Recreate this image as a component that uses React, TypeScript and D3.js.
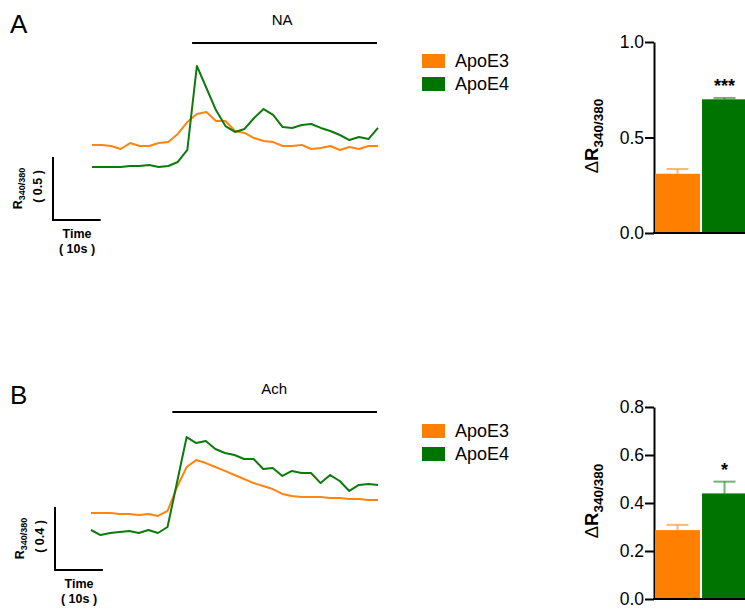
import React, { useEffect, useRef } from "react";
import * as d3 from "d3";

// calcium traces, one sample every 2 s (ratio 340/380)
const SAMPLE_S = 2;
const naApoE3 = [0.675, 0.675, 0.667, 0.643, 0.69, 0.667, 0.667, 0.69, 0.698, 0.762, 0.857, 0.921, 0.937, 0.865, 0.865, 0.786, 0.77, 0.73, 0.706, 0.698, 0.667, 0.667, 0.675, 0.643, 0.651, 0.667, 0.635, 0.659, 0.643, 0.667, 0.667];
const naApoE4 = [0.5, 0.5, 0.5, 0.5, 0.508, 0.508, 0.516, 0.5, 0.508, 0.54, 0.635, 1.302, 1.127, 0.952, 0.825, 0.778, 0.802, 0.889, 0.96, 0.913, 0.817, 0.81, 0.833, 0.841, 0.81, 0.786, 0.754, 0.714, 0.738, 0.722, 0.81];
const achApoE3 = [0.608, 0.608, 0.608, 0.602, 0.602, 0.595, 0.602, 0.589, 0.621, 0.773, 0.9, 0.944, 0.925, 0.9, 0.875, 0.849, 0.824, 0.798, 0.779, 0.76, 0.729, 0.716, 0.71, 0.71, 0.71, 0.703, 0.703, 0.697, 0.697, 0.69, 0.69];
const achApoE4 = [0.5, 0.468, 0.481, 0.487, 0.494, 0.481, 0.5, 0.481, 0.519, 0.805, 1.09, 1.052, 1.065, 1.014, 0.989, 0.976, 0.951, 0.951, 0.887, 0.894, 0.843, 0.875, 0.862, 0.862, 0.798, 0.849, 0.811, 0.748, 0.786, 0.792, 0.786];

// summary bars
const groups = ["ApoE3", "ApoE4"];
const naMean = [0.31, 0.70];
const naSem = [0.025, 0.007];
const achMean = [0.287, 0.44];
const achSem = [0.022, 0.049];
const naTicks = [0, 0.5, 1.0];
const achTicks = [0, 0.2, 0.4, 0.6, 0.8];

const ORANGE = "#ff7f00";
const GREEN = "#007400";
const FONT = "'Liberation Sans', Arial, sans-serif";

function drawPanel(svg: any, cfg: any) {
  const g = svg.append("g");
  const colors = [ORANGE, GREEN];

  // panel letter
  g.append("text").attr("x", 10).attr("y", cfg.top + 20)
    .attr("font-size", 26).text(cfg.letter);

  // traces
  const x = d3.scaleLinear().domain([0, 60]).range([cfg.traceLeft, 378]);
  const y = d3.scaleLinear().domain(cfg.yDomain).range(cfg.yRange);
  const line = d3.line<number>().x((d, i) => x(i * SAMPLE_S)).y(d => y(d));
  [cfg.e3, cfg.e4].forEach((s: number[], k: number) => {
    g.append("path").datum(s).attr("d", line)
      .attr("fill", "none").attr("stroke", k ? "#0d7a0d" : "#ff8410")
      .attr("stroke-width", 2).attr("stroke-linejoin", "round");
  });

  // agonist bar
  g.append("line").attr("x1", x(cfg.drugStart)).attr("x2", x(60) - 1)
    .attr("y1", cfg.drugY).attr("y2", cfg.drugY)
    .attr("stroke", "#000").attr("stroke-width", 2.2);
  g.append("text").attr("x", (x(cfg.drugStart) + x(60)) / 2 + cfg.drugDx)
    .attr("y", cfg.drugY - 18).attr("text-anchor", "middle")
    .attr("font-size", 15).text(cfg.drug);

  // scale bar
  const sbX = cfg.sbX, sbBottom = cfg.sbBottom;
  const sbH = y.range()[0] - y(y.domain()[0] + cfg.sbVal);
  const sbW = x(10) - x(0);
  g.append("path")
    .attr("d", `M${sbX},${sbBottom - sbH}V${sbBottom}H${sbX + sbW}`)
    .attr("fill", "none").attr("stroke", "#000").attr("stroke-width", 2);
  const rl = g.append("text")
    .attr("transform", `translate(${sbX - 31},${sbBottom - sbH / 2}) rotate(-90)`)
    .attr("text-anchor", "middle").attr("font-weight", "bold").attr("font-size", 12.5);
  rl.append("tspan").text("R");
  rl.append("tspan").attr("font-size", 9).attr("dy", 3).text("340/380");
  g.append("text")
    .attr("transform", `translate(${sbX - 11},${sbBottom - sbH / 2 - 2}) rotate(-90)`)
    .attr("text-anchor", "middle").attr("font-weight", "bold").attr("font-size", 12.5)
    .text(`( ${cfg.sbVal} )`);
  g.append("text").attr("x", sbX + 24).attr("y", sbBottom + 18)
    .attr("text-anchor", "middle").attr("font-weight", "bold").attr("font-size", 12.5).text("Time");
  g.append("text").attr("x", sbX + 24).attr("y", sbBottom + 33)
    .attr("text-anchor", "middle").attr("font-weight", "bold").attr("font-size", 12.5).text("( 10s )");

  // legend
  groups.forEach((name, k) => {
    g.append("rect").attr("x", 422).attr("y", cfg.legendY + k * 23)
      .attr("width", 23).attr("height", 14).attr("fill", colors[k]);
    g.append("text").attr("x", 455).attr("y", cfg.legendY + 13 + k * 23)
      .attr("font-size", 18).text(name);
  });

  // bar chart
  const by = d3.scaleLinear().domain([0, cfg.barMax]).range(cfg.barRange);
  const bx = d3.scaleBand().domain(groups).range([655, 747]).paddingInner(0.044);
  const ax = g.append("g").attr("transform", "translate(654,0)")
    .call(d3.axisLeft(by).tickValues(cfg.ticks).tickFormat(d3.format(".1f")).tickSize(9).tickSizeOuter(0));
  ax.select(".domain").attr("stroke-width", 2);
  ax.selectAll(".tick line").attr("stroke-width", 2);
  ax.selectAll(".tick text").attr("font-size", 17.5).attr("font-family", FONT).attr("fill", "#000").attr("x", -10);
  g.append("line").attr("x1", 653).attr("x2", 745)
    .attr("y1", by(0)).attr("y2", by(0)).attr("stroke", "#000").attr("stroke-width", 2);

  groups.forEach((name, k) => {
    const m = cfg.mean[k], e = cfg.sem[k];
    const cx = (bx(name) as number) + bx.bandwidth() / 2;
    g.append("line").attr("x1", cx).attr("x2", cx).attr("y1", by(m)).attr("y2", by(m + e))
      .attr("stroke", colors[k]).attr("stroke-opacity", 0.55).attr("stroke-width", 2);
    g.append("line").attr("x1", cx - 11).attr("x2", cx + 11).attr("y1", by(m + e)).attr("y2", by(m + e))
      .attr("stroke", colors[k]).attr("stroke-opacity", 0.55).attr("stroke-width", 2);
    g.append("rect").attr("x", bx(name) as number).attr("y", by(m))
      .attr("width", bx.bandwidth()).attr("height", by(0) - by(m) - 1).attr("fill", colors[k]);
  });
  const cx4 = (bx("ApoE4") as number) + bx.bandwidth() / 2;
  g.append("text").attr("x", cx4).attr("y", by(cfg.mean[1] + cfg.sem[1]) - cfg.starGap)
    .attr("text-anchor", "middle").attr("font-weight", "bold").attr("font-size", 18).text(cfg.stars);

  const yl = g.append("text")
    .attr("transform", `translate(598,${cfg.yLabelY}) rotate(-90)`)
    .attr("text-anchor", "middle").attr("font-weight", "bold").attr("font-size", 18.5);
  yl.append("tspan").attr("font-weight", "normal").text("Δ");
  yl.append("tspan").text("R");
  yl.append("tspan").attr("font-size", 13.5).attr("dy", 5).text("340/380");
}

export default function App() {
  const ref = useRef<SVGSVGElement>(null);
  useEffect(() => {
    const svg = d3.select(ref.current);
    svg.selectAll("*").remove();
    drawPanel(svg, {
      letter: "A", top: 13, traceLeft: 92, e3: naApoE3, e4: naApoE4,
      yDomain: [0.5, 1.0], yRange: [167, 104],
      drug: "NA", drugStart: 21, drugY: 43, drugDx: -3,
      sbX: 53, sbBottom: 220, sbVal: 0.5,
      legendY: 54,
      barMax: 1.0, barRange: [233, 42], ticks: naTicks,
      mean: naMean, sem: naSem, stars: "***", starGap: 6, yLabelY: 136,
    });
    drawPanel(svg, {
      letter: "B", top: 384, traceLeft: 91, e3: achApoE3, e4: achApoE4,
      yDomain: [0.5, 0.9], yRange: [530, 467],
      drug: "Ach", drugStart: 17, drugY: 412, drugDx: -1,
      sbX: 55, sbBottom: 570, sbVal: 0.4,
      legendY: 424,
      barMax: 0.8, barRange: [599, 407], ticks: achTicks,
      mean: achMean, sem: achSem, stars: "*", starGap: 6, yLabelY: 501,
    });
  }, []);
  return (
    <svg ref={ref} width={745} height={610}
      style={{ position: "absolute", left: 0, top: 0, fontFamily: FONT }} />
  );
}
